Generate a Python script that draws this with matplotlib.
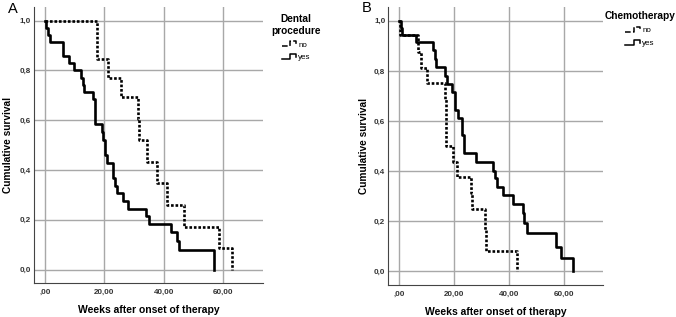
import numpy as np
import matplotlib
matplotlib.use('Agg')
from matplotlib import pyplot as plt
from matplotlib.lines import Line2D
from matplotlib.legend_handler import HandlerBase

plt.rcParams['font.family'] = ['Liberation Sans', 'DejaVu Sans']

# Panel A: dental procedure (time in weeks, survival after the event)
a_no_t = [0, 17.4, 21.1, 25.6, 31.3, 31.8, 34.3, 37.7, 41.0, 47.0, 58.8, 63.2]
a_no_s = [1.0, 0.846, 0.769, 0.692, 0.606, 0.519, 0.433, 0.346, 0.260, 0.173, 0.087, 0.0]
a_yes_t = [0, 0.3, 0.9, 1.7, 6.2, 8.2, 9.9, 12.1, 12.7, 13.1, 16.3, 16.9, 19.1, 19.7,
           20.2, 20.8, 23.0, 23.6, 24.2, 26.2, 28.1, 34.1, 35.2, 42.4, 44.4, 45.3, 57.0]
a_yes_s = [1.0, 0.971, 0.943, 0.914, 0.857, 0.829, 0.800, 0.771, 0.743, 0.714, 0.686,
           0.583, 0.552, 0.521, 0.460, 0.429, 0.368, 0.337, 0.306, 0.276, 0.245, 0.214,
           0.184, 0.153, 0.115, 0.077, 0.0]

# Panel B: chemotherapy
b_no_t = [0, 0.2, 6.7, 8.1, 10.0, 16.6, 16.9, 17.2, 19.6, 20.9, 26.0, 26.3, 31.2, 31.6, 42.7]
b_no_s = [1.0, 0.944, 0.875, 0.813, 0.750, 0.688, 0.625, 0.500, 0.438, 0.375, 0.313,
          0.250, 0.167, 0.083, 0.0]
b_yes_t = [0, 0.6, 1.1, 6.3, 12.4, 13.0, 13.3, 16.6, 17.5, 19.3, 20.3, 21.5, 22.9, 23.6,
           27.9, 34.0, 34.9, 35.5, 37.6, 41.2, 44.9, 45.5, 46.3, 57.0, 58.8, 63.1]
b_yes_s = [1.0, 0.971, 0.944, 0.916, 0.884, 0.848, 0.814, 0.781, 0.748, 0.715, 0.645,
           0.613, 0.543, 0.473, 0.437, 0.400, 0.371, 0.338, 0.305, 0.269, 0.232, 0.192,
           0.155, 0.099, 0.053, 0.0]

xticks = [0, 20, 40, 60]
xticklabels = [',00', '20,00', '40,00', '60,00']
yticks = [0, 0.2, 0.4, 0.6, 0.8, 1.0]
yticklabels = ['0,0', '0,2', '0,4', '0,6', '0,8', '1,0']

DOT = (0, (1, 0.7))


#kleines Stufen-Symbol wie bei SPSS
class StepHandler(HandlerBase):
    def create_artists(self, legend, orig, xd, yd, w, h, fontsize, trans):
        xs = [xd, xd + 0.55*w, xd + 0.55*w, xd + 0.9*w, xd + 0.9*w]
        ys = [yd + 0.1*h, yd + 0.1*h, yd + 0.95*h, yd + 0.95*h, yd + 0.45*h]
        l = Line2D(xs, ys, color='black', lw=1.1,
                   linestyle=orig.get_linestyle(), transform=trans)
        return [l]


def km_panel(ax, t_no, s_no, t_yes, s_yes, xlim, ylx):
    ax.step(t_no, s_no, where='post', color='black', lw=1.9, linestyle=DOT)
    ax.step(t_yes, s_yes, where='post', color='black', lw=1.9)
    ax.set_xlim(xlim)
    ax.set_ylim(-0.054, 1.055)
    ax.set_xticks(xticks)
    ax.set_xticklabels(xticklabels)
    ax.set_yticks(yticks)
    ax.set_yticklabels(yticklabels)
    ax.tick_params(axis='x', length=0, labelsize=5.8, pad=4)
    ax.tick_params(axis='y', length=0, labelsize=5.8, pad=2)
    for lab in ax.get_xticklabels() + ax.get_yticklabels():
        lab.set_fontweight('bold')
        lab.set_color('#333333')
    ax.grid(True, color='#a8a8a8', lw=1)
    ax.set_axisbelow(True)
    ax.spines['top'].set_visible(False)
    ax.spines['right'].set_visible(False)
    ax.spines['left'].set_color('#444444')
    ax.spines['bottom'].set_color('#444444')
    ax.set_xlabel('Weeks after onset of therapy', fontsize=7.5, fontweight='bold', va='center')
    ax.xaxis.set_label_coords(0.5, -0.098)
    ax.set_ylabel('Cumulative survival', fontsize=7.3, fontweight='bold', va='center')
    ax.yaxis.set_label_coords(ylx, 0.5)


def step_legend(ax, title, anchor):
    h_no = Line2D([], [], color='black', lw=1.1, linestyle=DOT)
    h_yes = Line2D([], [], color='black', lw=1.1)
    leg = ax.legend([h_no, h_yes], ['no', 'yes'], title=title,
                    handler_map={Line2D: StepHandler()}, frameon=False,
                    loc='upper left', bbox_to_anchor=anchor, fontsize=5.8,
                    handlelength=2.0, handletextpad=0.1, labelspacing=0.65,
                    borderaxespad=0.0, borderpad=0.2)
    leg.get_title().set_fontweight('bold')
    leg.get_title().set_fontsize(7.3)
    leg.get_title().set_linespacing(1.2)
    leg.get_title().set_multialignment('center')
    return leg


fig = plt.figure(figsize=(6.76, 3.17), dpi=100)
ax1 = fig.add_axes([0.0503, 0.107, 0.3388, 0.871])
ax2 = fig.add_axes([0.574, 0.101, 0.318, 0.877])

km_panel(ax1, a_no_t, a_no_s, a_yes_t, a_yes_s, (-3.7, 73.5), -0.1135)
km_panel(ax2, b_no_t, b_no_s, b_yes_t, b_yes_s, (-4.0, 74.0), -0.1116)

step_legend(ax1, 'Dental\nprocedure', (1.03, 0.98))
step_legend(ax2, 'Chemotherapy', (1.0, 0.99))

fig.text(0.012, 0.995, 'A', fontsize=10.5, va='top')
fig.text(0.535, 0.998, 'B', fontsize=10.5, va='top')

fig.savefig('out.png', dpi=100)
